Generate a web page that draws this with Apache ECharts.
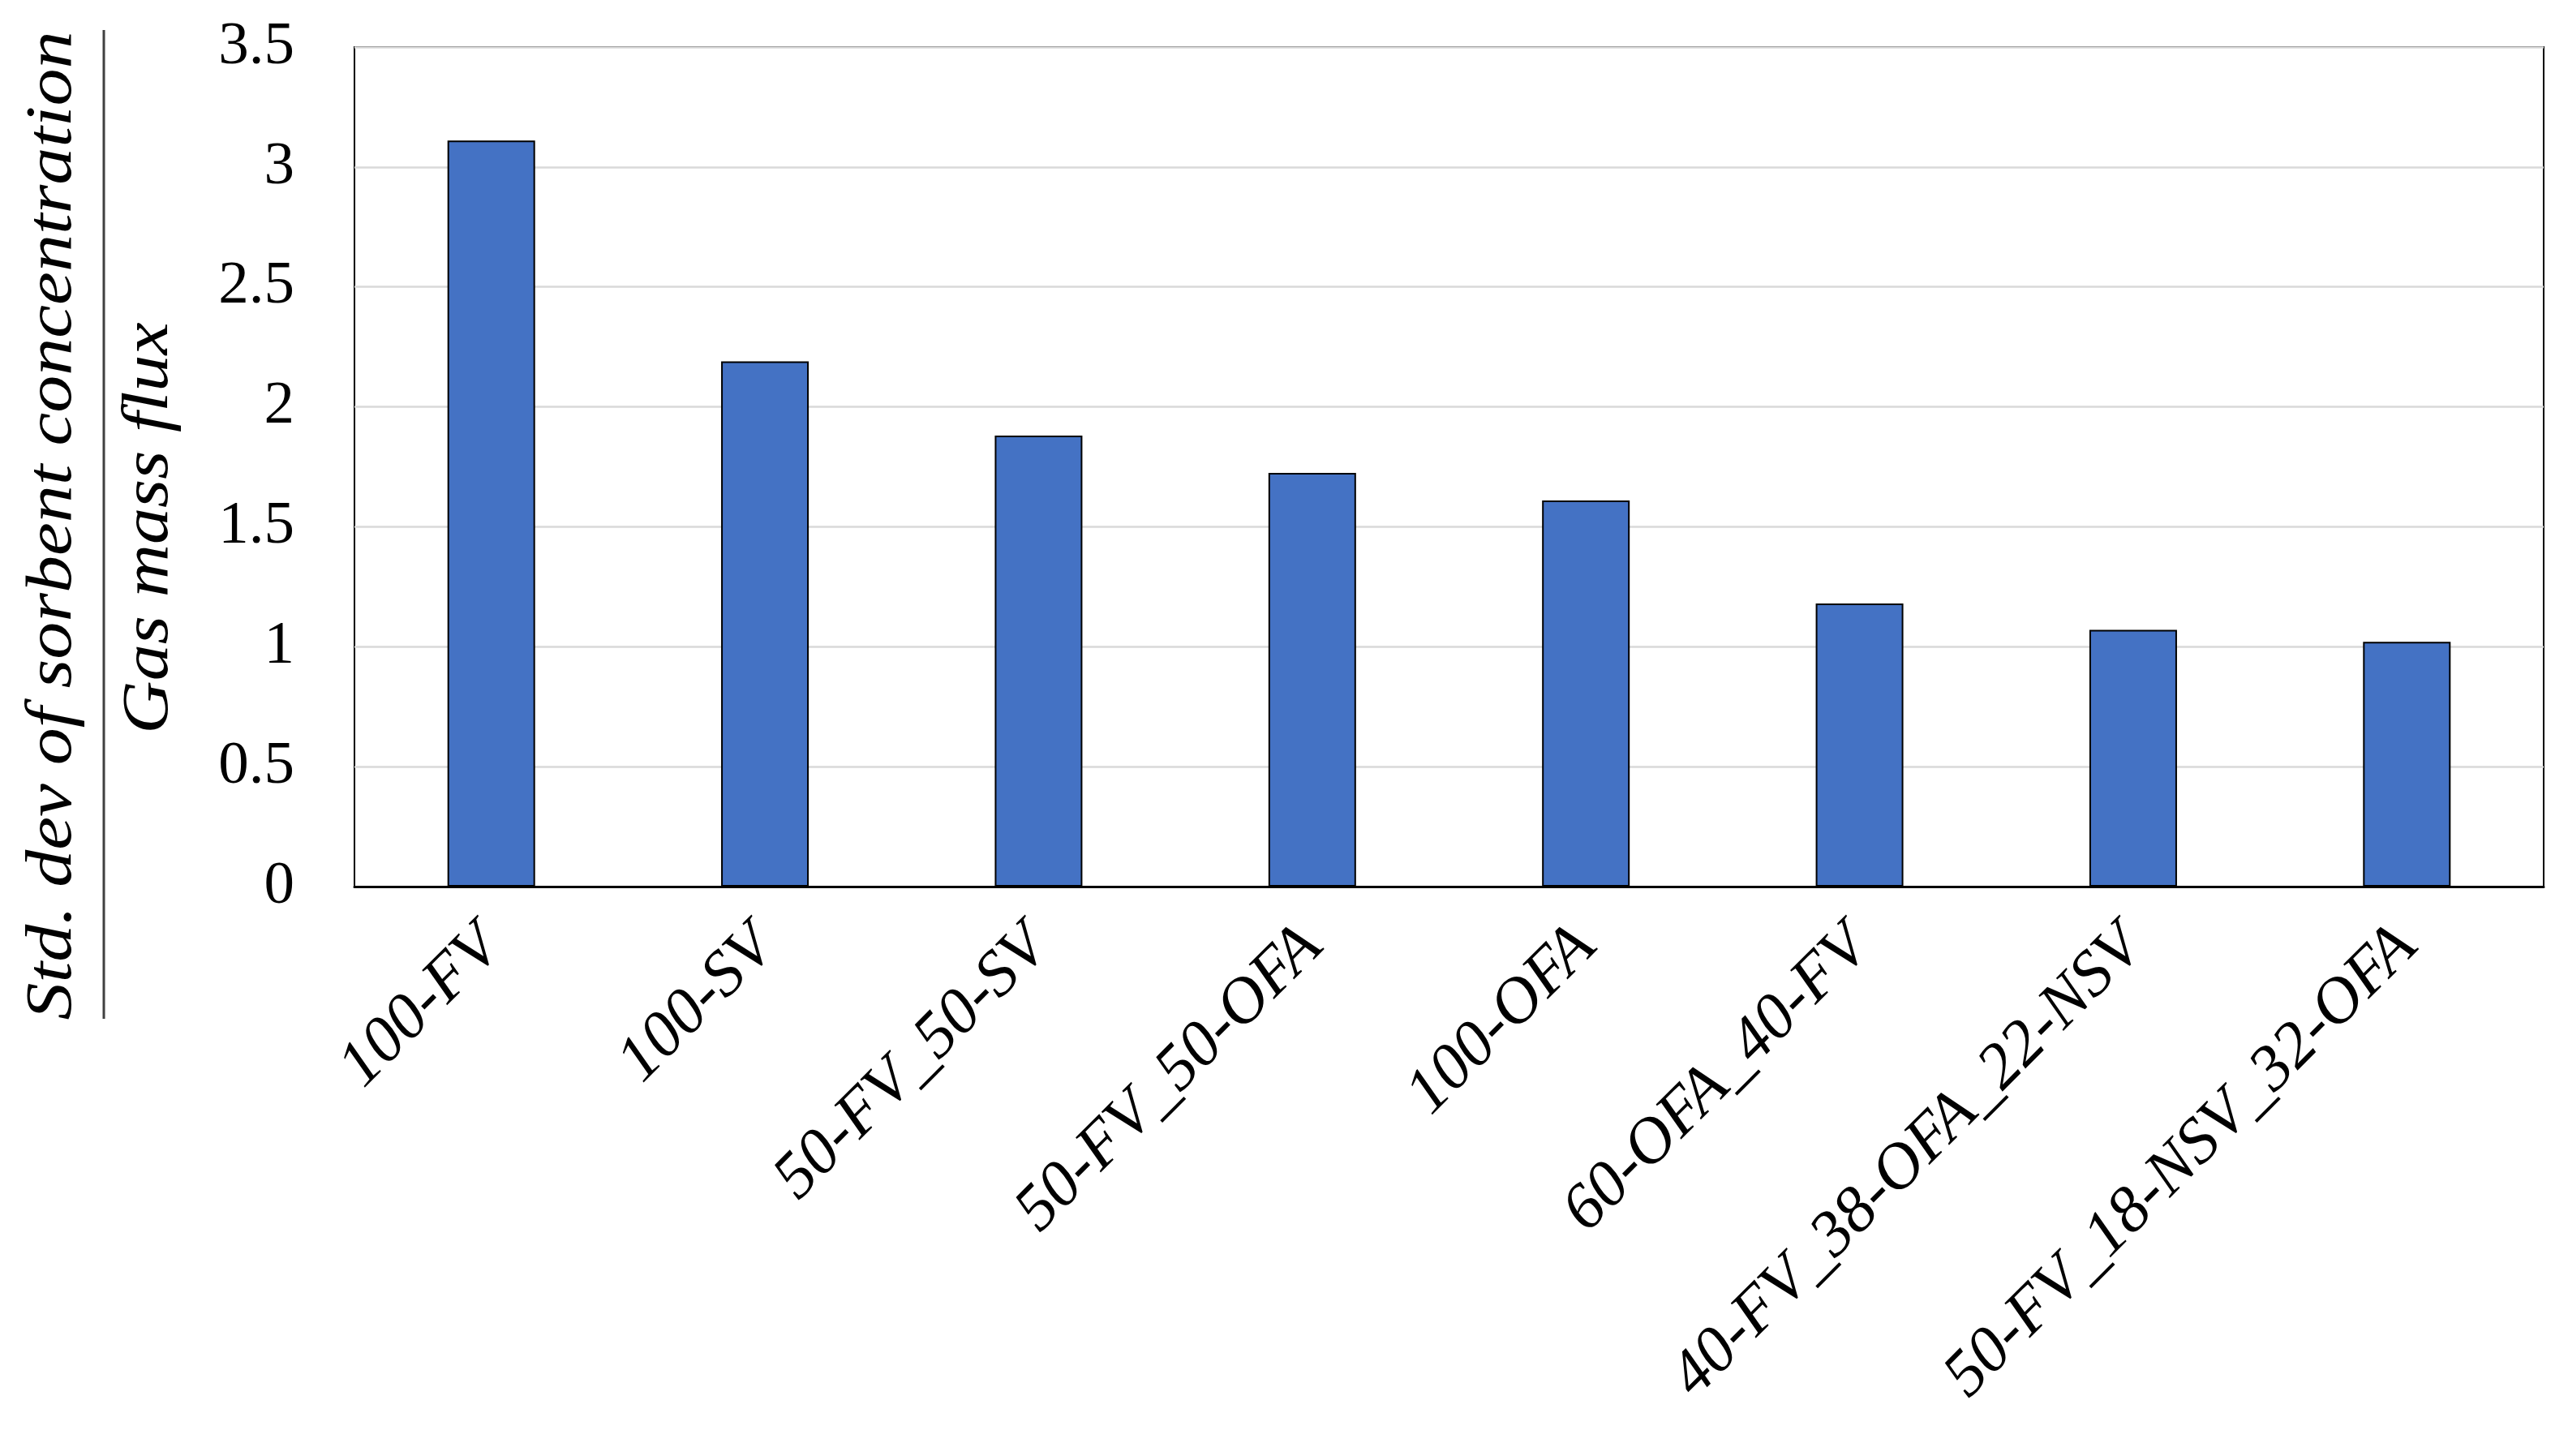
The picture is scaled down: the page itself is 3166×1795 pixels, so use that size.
<!DOCTYPE html>
<html>
<head>
<meta charset="utf-8">
<script src="https://cdn.jsdelivr.net/npm/echarts@6/dist/echarts.min.js"></script>
<style>
  html, body { margin: 0; padding: 0; background: #fff; }
  #chart { width: 3166px; height: 1795px; }
</style>
</head>
<body>
<div id="chart"></div>
<script>
// data
const categories = ["100-FV", "100-SV", "50-FV_50-SV", "50-FV_50-OFA", "100-OFA",
  "60-OFA_40-FV", "40-FV_38-OFA_22-NSV", "50-FV_18-NSV_32-OFA"];
const stdDevRatio = [3.11, 2.19, 1.88, 1.725, 1.61, 1.18, 1.07, 1.02];
const yMin = 0;
const yMax = 3.5;
const yStep = 0.5;
const numerator = "Std. dev of sorbent concentration";
const denominator = "Gas mass flux";

const serif = "'Liberation Serif', 'Times New Roman', serif";

const chart = echarts.init(document.getElementById("chart"), null, { renderer: "canvas" });
chart.setOption({
  animation: false,
  backgroundColor: "#fff",
  grid: {
    left: 437,
    top: 58,
    right: 30,
    bottom: 702,
    show: true,
    borderColor: "#000",
    borderWidth: 2,
    containLabel: false,
  },
  xAxis: {
    type: "category",
    data: categories,
    axisLine: { show: true, lineStyle: { color: "#000", width: 3 } },
    axisTick: { show: false },
    axisLabel: {
      interval: 0,
      rotate: 45,
      margin: 62,
      color: "#000",
      fontFamily: serif,
      fontStyle: "italic",
      fontSize: 80,
    },
  },
  yAxis: {
    type: "value",
    min: yMin,
    max: yMax,
    interval: yStep,
    axisLine: { show: false },
    axisTick: { show: false },
    splitLine: { lineStyle: { color: "#d9d9d9", width: 2.5 } },
    axisLabel: {
      margin: 74,
      color: "#000",
      fontFamily: serif,
      fontSize: 75,
    },
  },
  series: [
    {
      type: "bar",
      data: stdDevRatio,
      barWidth: 108,
      itemStyle: { color: "#4472c4", borderColor: "#000", borderWidth: 2 },
    },
  ],
  graphic: [
    {
      type: "text",
      x: 66,
      y: 648,
      rotation: Math.PI / 2,
      scaleX: 1.15,
      style: {
        text: numerator,
        fontFamily: serif,
        fontStyle: "italic",
        fontSize: 80,
        fill: "#000",
        align: "center",
        verticalAlign: "middle",
        textAlign: "center",
        textVerticalAlign: "middle",
      },
    },
    {
      type: "line",
      shape: { x1: 128, y1: 37, x2: 128, y2: 1256 },
      style: { stroke: "#404040", lineWidth: 3 },
    },
    {
      type: "text",
      x: 185,
      y: 651,
      rotation: Math.PI / 2,
      scaleX: 1.13,
      style: {
        text: denominator,
        fontFamily: serif,
        fontStyle: "italic",
        fontSize: 80,
        fill: "#000",
        align: "center",
        verticalAlign: "middle",
        textAlign: "center",
        textVerticalAlign: "middle",
      },
    },
  ],
});
</script>
</body>
</html>
